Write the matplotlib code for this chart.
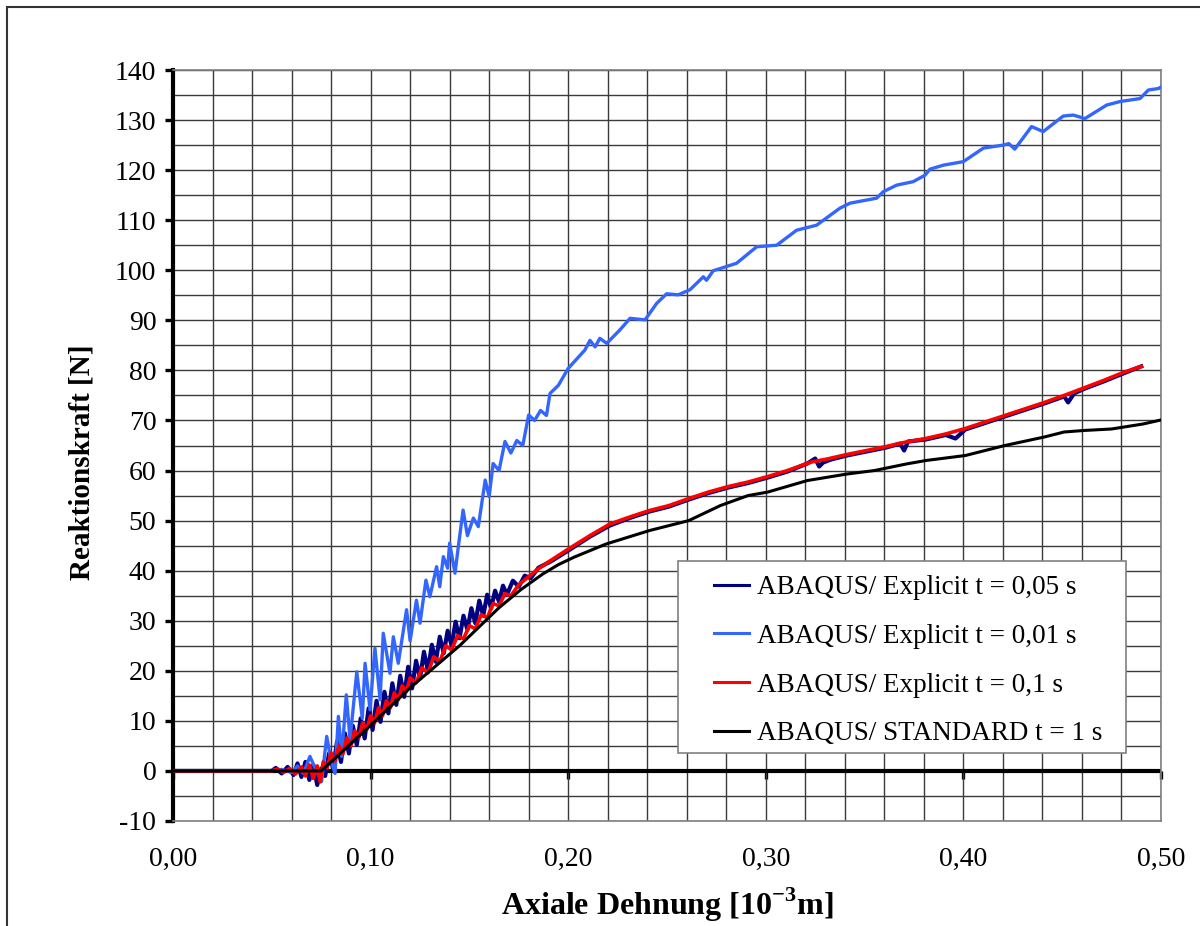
import matplotlib
matplotlib.use("Agg")
import matplotlib.pyplot as plt
from matplotlib.patches import Rectangle
from matplotlib.ticker import MultipleLocator

plt.rcParams['font.family'] = ['Liberation Serif', 'DejaVu Serif']
plt.rcParams['mathtext.fontset'] = 'custom'
plt.rcParams['mathtext.rm'] = 'Liberation Serif'
plt.rcParams['mathtext.bf'] = 'Liberation Serif:bold'

# ---------------- data ----------------
x_labels = ["0,00", "0,10", "0,20", "0,30", "0,40", "0,50"]
x_ticks = [0.0, 0.1, 0.2, 0.3, 0.4, 0.5]
y_ticks = [-10, 0, 10, 20, 30, 40, 50, 60, 70, 80, 90, 100, 110, 120, 130, 140]

labels = ["ABAQUS/ Explicit t = 0,05 s", "ABAQUS/ Explicit t = 0,01 s",
          "ABAQUS/ Explicit t = 0,1 s", "ABAQUS/ STANDARD t = 1 s"]

x_exp005 = [0.0, 0.05, 0.052, 0.055, 0.058, 0.061, 0.063, 0.065, 0.067, 0.069, 0.071, 0.073, 0.075,
            0.077, 0.079, 0.081, 0.083, 0.085, 0.087, 0.089, 0.091, 0.093, 0.095, 0.097, 0.099,
            0.101, 0.103, 0.105, 0.107, 0.109, 0.111, 0.113, 0.115, 0.117, 0.119, 0.121, 0.123,
            0.125, 0.127, 0.129, 0.131, 0.133, 0.135, 0.137, 0.139, 0.141, 0.143, 0.145, 0.147,
            0.149, 0.151, 0.153, 0.155, 0.157, 0.159, 0.161, 0.163, 0.165, 0.167, 0.169, 0.172,
            0.175, 0.178, 0.181, 0.185, 0.191, 0.2, 0.211, 0.221, 0.231, 0.241, 0.251, 0.261,
            0.271, 0.281, 0.291, 0.301, 0.311, 0.321, 0.325, 0.327, 0.329, 0.333, 0.341, 0.351,
            0.361, 0.368, 0.370, 0.372, 0.381, 0.391, 0.396, 0.401, 0.411, 0.421, 0.431, 0.441,
            0.451, 0.453, 0.456, 0.461, 0.471, 0.481, 0.49]
y_exp005 = [0.0, 0.0, 0.6, -0.5, 0.8, -0.8, 1.5, -1.2, 1.8, -1.8, 1.2, -2.8, 0.5,
            -1.0, 3.5, 0.5, 5.8, 1.8, 7.5, 3.5, 9.0, 5.2, 10.5, 6.5, 12.5,
            8.2, 14.0, 9.8, 15.8, 11.5, 17.5, 13.2, 19.0, 14.8, 20.8, 16.5, 22.0,
            18.5, 23.8, 20.0, 25.2, 21.8, 26.8, 23.5, 28.0, 25.0, 29.8, 26.5, 31.0,
            28.2, 32.5, 29.5, 34.0, 31.0, 35.2, 32.5, 36.0, 33.8, 37.0, 35.2, 38.0,
            36.8, 39.0, 38.5, 40.6, 41.8, 44.0, 46.8, 49.0, 50.5, 51.8, 52.8, 54.2,
            55.5, 56.6, 57.5, 58.6, 59.8, 61.4, 62.4, 60.8, 61.6, 62.2, 63.0, 63.8,
            64.6, 65.4, 64.0, 65.8, 66.2, 67.1, 66.4, 68.2, 69.5, 70.8, 72.1, 73.4,
            74.8, 73.6, 75.4, 76.3, 77.8, 79.4, 80.8]

x_exp001 = [0.0, 0.048, 0.055, 0.06, 0.063, 0.066, 0.0693, 0.072, 0.0752, 0.0778, 0.080, 0.082,
            0.0837, 0.0854, 0.0877, 0.0896, 0.093, 0.0958, 0.0972, 0.0997, 0.1022, 0.1048, 0.1064,
            0.1098, 0.1115, 0.114, 0.1182, 0.120, 0.1232, 0.125, 0.128, 0.130, 0.1334, 0.135,
            0.1368, 0.139, 0.140, 0.1427, 0.1444, 0.1468, 0.149, 0.152, 0.1545, 0.158, 0.160,
            0.162, 0.165, 0.168, 0.171, 0.174, 0.177, 0.180, 0.183, 0.186, 0.189, 0.1908, 0.195,
            0.200, 0.2085, 0.211, 0.2136, 0.216, 0.2195, 0.2262, 0.2313, 0.2389, 0.2448, 0.2498,
            0.2557, 0.2616, 0.2684, 0.27, 0.2734, 0.2852, 0.2954, 0.3055, 0.3156, 0.3257, 0.3375,
            0.3426, 0.3561, 0.3595, 0.3662, 0.3746, 0.3806, 0.3831, 0.39, 0.40, 0.4101, 0.4202,
            0.423, 0.426, 0.4345, 0.4404, 0.4505, 0.4556, 0.4615, 0.4725, 0.4793, 0.4894, 0.4936,
            0.4987, 0.5]
y_exp001 = [0.0, 0.0, 0.3, -0.3, 1.0, -0.5, 2.9, 0.5, -2.1, 6.9, 2.0, -0.5,
            10.9, 2.9, 15.2, 6.2, 19.8, 10.5, 21.5, 12.2, 24.5, 14.2, 27.5,
            19.5, 26.8, 21.5, 32.2, 26.0, 34.1, 29.5, 38.1, 34.8, 40.8, 36.8,
            42.8, 40.5, 45.5, 39.5, 44.8, 52.1, 47.0, 50.5, 48.8, 58.1, 54.8,
            61.4, 60.0, 65.8, 63.5, 66.0, 65.0, 71.1, 70.0, 72.0, 71.0, 75.4, 77.0,
            80.4, 84.1, 86.0, 84.7, 86.4, 85.4, 88.1, 90.4, 90.1, 93.4, 95.3,
            95.1, 96.1, 98.7, 98.0, 99.9, 101.4, 104.7, 105.0, 108.0, 109.0, 112.4,
            113.4, 114.4, 115.7, 117.0, 117.7, 119.0, 120.2, 121.0, 121.7, 124.4, 125.0,
            125.3, 124.2, 128.7, 127.7, 130.8, 131.0, 130.3, 133.0, 133.7, 134.3, 136.0,
            136.3, 136.6]

x_exp01 = [0.0, 0.05, 0.053, 0.056, 0.059, 0.062, 0.065, 0.067, 0.069, 0.071, 0.073, 0.0745,
           0.076, 0.078, 0.08, 0.082, 0.084, 0.086, 0.088, 0.09, 0.092, 0.094, 0.096, 0.098,
           0.1, 0.102, 0.104, 0.106, 0.108, 0.11, 0.112, 0.114, 0.116, 0.118, 0.12, 0.123,
           0.126, 0.129, 0.132, 0.135, 0.138, 0.141, 0.144, 0.147, 0.15, 0.153, 0.156, 0.159,
           0.162, 0.165, 0.168, 0.171, 0.175, 0.18, 0.185, 0.191, 0.2, 0.211, 0.221, 0.231,
           0.241, 0.251, 0.261, 0.271, 0.281, 0.291, 0.301, 0.311, 0.323, 0.331, 0.341, 0.351,
           0.361, 0.371, 0.381, 0.391, 0.401, 0.411, 0.421, 0.431, 0.441, 0.451, 0.461, 0.471,
           0.481, 0.49]
y_exp01 = [0.0, 0.0, 0.4, -0.3, 0.5, -0.6, 0.8, -1.0, 1.2, -1.5, 1.0, -2.2,
           1.8, 0.6, 3.6, 2.0, 5.0, 3.4, 6.6, 5.0, 8.0, 6.6, 9.6, 8.2,
           11.0, 9.6, 12.6, 11.0, 14.0, 12.6, 15.6, 14.2, 17.0, 15.8, 18.6, 17.6,
           20.6, 19.6, 22.8, 21.8, 25.0, 24.2, 27.0, 26.4, 29.0, 28.4, 31.2, 30.6,
           33.4, 33.0, 35.4, 35.0, 37.2, 38.8, 40.4, 42.0, 44.3, 47.0, 49.3, 50.7,
           52.0, 53.0, 54.4, 55.7, 56.8, 57.7, 58.8, 60.0, 61.7, 62.3, 63.2, 64.0,
           64.8, 65.7, 66.4, 67.3, 68.4, 69.7, 71.0, 72.3, 73.6, 75.0, 76.5, 78.0,
           79.6, 80.8]

x_std = [0.0, 0.075, 0.1, 0.12, 0.145, 0.165, 0.176, 0.187, 0.195, 0.203, 0.219, 0.241, 0.261,
         0.277, 0.291, 0.301, 0.321, 0.341, 0.355, 0.371, 0.381, 0.401, 0.421, 0.441, 0.451,
         0.461, 0.475, 0.491, 0.5]
y_std = [0.0, 0.0, 9.1, 16.6, 25.0, 32.6, 36.2, 39.3, 41.2, 42.7, 45.3, 48.0, 50.0,
         53.0, 55.0, 55.7, 58.0, 59.3, 60.0, 61.3, 62.0, 63.0, 65.0, 66.7, 67.7,
         68.0, 68.3, 69.3, 70.1]

# ---------------- figure ----------------
W, H = 1200, 926
fig = plt.figure(figsize=(W / 100, H / 100), dpi=100)
fig.patch.set_facecolor('white')

# outer chart frame
fig.patches.append(Rectangle((7 / W, -0.1), 1.2, 1 - 7 / H + 0.1, transform=fig.transFigure,
                             fill=False, edgecolor='#333333', linewidth=1.5))

L, R, T, B = 173, 1161, 70, 821
ax = fig.add_axes([L / W, 1 - B / H, (R - L) / W, (B - T) / H])
ax.set_xlim(0, 0.5)
ax.set_ylim(-10, 140)

# grid
ax.xaxis.set_minor_locator(MultipleLocator(0.02))
ax.yaxis.set_minor_locator(MultipleLocator(5))
ax.grid(which='both', color='#3a3a3a', linewidth=1.0)
ax.set_axisbelow(True)

for s in ['top', 'right', 'bottom']:
    ax.spines[s].set_color('#808080')
    ax.spines[s].set_linewidth(1.2)
ax.spines['left'].set_linewidth(3.0)
ax.spines['left'].set_color('black')

ax.set_yticks(y_ticks)
ax.set_yticklabels([str(v) for v in y_ticks])
ax.tick_params(axis='y', which='major', direction='out', length=6, width=2.4,
               labelsize=20, pad=6, color='black')
ax.tick_params(axis='y', which='minor', length=0)
ax.set_xticks(x_ticks)
ax.set_xticklabels(x_labels)
ax.tick_params(axis='x', which='both', length=0, labelsize=20, pad=19)

# zero axis line with tick marks
ax.axhline(0, color='black', linewidth=3.0, zorder=1.5)
sec = ax.secondary_xaxis(10 / 150)
sec.set_xticks(x_ticks)
sec.set_xticklabels([])
sec.tick_params(direction='out', length=6, width=2.4, color='black')
for s in sec.spines.values():
    s.set_visible(False)

l1, = ax.plot(x_exp005, y_exp005, color='#000080', linewidth=3.0, zorder=3)
l2, = ax.plot(x_exp001, y_exp001, color='#3366FF', linewidth=2.4, zorder=3.5)
l3, = ax.plot(x_exp01, y_exp01, color='#FF0000', linewidth=2.6, zorder=4)
l4, = ax.plot(x_std, y_std, color='black', linewidth=2.2, zorder=5)

# legend box drawn separately for exact placement
LL, LR, LT, LB = 678, 1126, 561, 753
fig.patches.append(Rectangle((LL / W, 1 - LB / H), (LR - LL) / W, (LB - LT) / H,
                             transform=fig.transFigure, facecolor='white',
                             edgecolor='#808080', linewidth=1.2, zorder=9))
leg = fig.legend([l1, l2, l3, l4], labels, loc='upper left',
                 bbox_to_anchor=(714 / W, 1 - 575 / H), bbox_transform=fig.transFigure,
                 borderaxespad=0, borderpad=0, fontsize=19.5, frameon=False,
                 handlelength=1.3, handletextpad=0.3, labelspacing=0.88)
leg.set_zorder(10)
for h in leg.get_lines():
    h.set_linewidth(2.2)

fig.text(82 / W, 1 - 462 / H, "Reaktionskraft [N]", rotation=90, ha='center', va='center',
         fontsize=21, fontweight='bold')
fig.text(667 / W, 1 - 905 / H, r"Axiale Dehnung [10$^{\mathbf{-3}}$m]", ha='center', va='center',
         fontsize=23, fontweight='bold')

fig.savefig("out.png", dpi=100, facecolor='white')
